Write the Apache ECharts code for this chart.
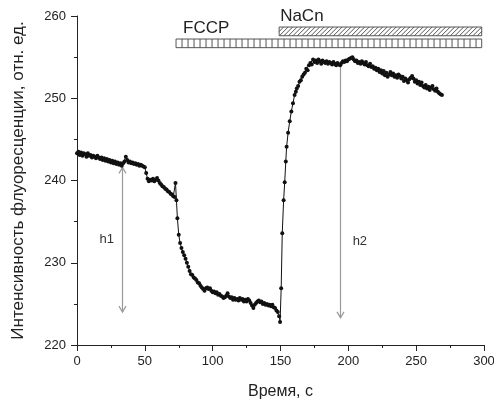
<!DOCTYPE html>
<html>
<head>
<meta charset="utf-8">
<script src="https://cdn.jsdelivr.net/npm/echarts@6/dist/echarts.min.js"></script>
<style>html,body{margin:0;padding:0;background:#fff}#c{width:494px;height:403px}</style>
</head>
<body>
<div id="c"></div>
<script>
// Fluorescence trace: [time s, intensity]
const trace = [
[0,243.3],[1,243.5],[2,243.1],[3,243.4],[4,243.0],[5,243.3],[6,243.2],[7,242.9],[8,243.3],[9,243.0],
[10,243.1],[11,242.8],[12,243.0],[13,242.9],[14,242.7],[15,243.0],[16,242.8],[17,242.6],[18,242.8],[19,242.5],
[20,242.7],[21,242.4],[22,242.6],[23,242.3],[24,242.5],[25,242.2],[26,242.4],[27,242.1],[28,242.3],[29,242.0],
[30,242.2],[31,241.9],[32,242.1],[33,241.8],[34,242.1],[35,242.3],[36,242.9],[37,242.5],[38,242.2],[39,242.3],
[40,242.1],[41,242.2],[42,242.0],[43,242.1],[44,241.9],[45,242.0],[46,241.8],[47,241.9],[48,241.8],[49,241.7],
[50,241.6],[51,240.9],[52,240.2],[53,239.9],[54,240.1],[55,240.0],[56,240.2],[57,239.9],[58,240.1],[59,240.3],
[60,240.0],[61,239.7],[62,239.5],[63,239.3],[64,239.2],[65,239.0],[66,238.9],[67,238.7],[68,238.6],[69,238.4],
[70,238.3],[71,238.1],[72,238.0],[72.6,239.7],[73.3,237.6],[74,235.4],[75,233.4],[76,232.4],[77,231.8],[78,231.3],
[79,230.9],[80,230.5],[81,230.0],[82,229.5],[83,229.0],[84,228.6],[85,228.5],[86,228.2],[87,228.1],[88,227.9],
[89,227.6],[90,227.5],[91,227.2],[92,227.0],[93,226.8],[94,226.6],[95,226.9],[96,227.0],[97,226.8],[98,226.9],
[99,226.6],[100,226.4],[101,226.5],[102,226.3],[103,226.4],[104,226.1],[105,226.2],[106,226.0],[107,225.9],[108,225.7],
[109,225.8],[110,226.0],[111,226.3],[112,225.9],[113,225.7],[114,225.8],[115,225.5],[116,225.7],[117,225.5],[118,225.6],
[119,225.4],[120,225.7],[121,225.5],[122,225.6],[123,225.3],[124,225.5],[125,225.3],[126,225.6],[127,225.4],[128,225.1],
[129,224.8],[130,224.5],[131,224.9],[132,225.1],[133,225.3],[134,225.4],[135,225.2],[136,225.3],[137,225.0],[138,225.1],
[139,224.9],[140,225.0],[141,224.8],[142,224.9],[143,224.7],[144,224.9],[145,224.6],[146,224.5],[147,224.2],[148,224.0],
[149,223.5],[149.7,222.8],[150.5,226.9],[151.3,233.6],[152.3,237.6],[153.1,239.8],[153.9,242.3],[154.5,244.1],[155.6,245.8],[156.8,247.2],
[158,248.4],[159.2,249.4],[160.4,250.4],[161.3,250.8],[162,251.2],[163,251.5],[164,252.0],[165,252.2],[166,252.6],[167,252.9],
[168,253.1],[169,253.6],[170,253.4],[171,254.0],[172,254.3],[173,254.1],[174,254.7],[175,254.4],[176,254.6],[177,254.3],
[178,254.7],[179,254.5],[180,254.2],[181,254.6],[182,254.4],[183,254.3],[184,254.5],[185,254.2],[186,254.4],[187,254.3],
[188,254.1],[189,254.4],[190,254.2],[191,254.0],[192,254.3],[193,254.1],[194,254.0],[195,254.3],[196,254.5],[197,254.4],
[198,254.6],[199,254.5],[200,254.7],[201,254.8],[202,254.9],[203,255.0],[204,254.7],[205,254.5],[206,254.6],[207,254.3],
[208,254.4],[209,254.2],[210,254.5],[211,254.3],[212,254.1],[213,254.4],[214,254.0],[215,253.9],[216,254.2],[217,253.8],
[218,253.9],[219,253.6],[220,253.7],[221,253.4],[222,253.6],[223,253.2],[224,253.4],[225,253.0],[226,253.3],[227,252.8],
[228,253.1],[229,252.6],[230,252.9],[231,253.2],[232,252.8],[233,253.0],[234,252.6],[235,252.8],[236,252.5],[237,252.9],
[238,252.7],[239,252.4],[240,252.6],[241,252.1],[242,252.4],[243,252.2],[244,251.9],[245,252.3],[246,252.5],[247,252.7],
[248,252.4],[249,252.0],[250,252.2],[251,251.8],[252,252.0],[253,251.6],[254,251.9],[255,251.5],[256,251.3],[257,251.6],
[258,251.2],[259,251.4],[260,251.0],[261,251.3],[262,251.5],[263,251.1],[264,250.9],[265,251.2],[266,250.8],[267,250.6],
[268,250.5],[269,250.4]
];
const xTicks = [0, 50, 100, 150, 200, 250, 300];
const yTicks = [220, 230, 240, 250, 260];
// Treatment bars: [label, startTime, endTime, yLow, yHigh]
const treatments = [
  ['FCCP', 73, 298.3, 256.15, 257.2],
  ['NaCn', 149, 298.3, 257.6, 258.66]
];
// Arrows: [label, time, yTop, yBottom, doubleHeaded, labelTime, labelY]
const arrows = [
  ['h1', 33, 241.6, 224.0, 1, 22, 232.8],
  ['h2', 194, 254.1, 223.3, 0, 208.5, 232.6]
];

const FONT = 'Liberation Sans, Arial, sans-serif';
const chart = echarts.init(document.getElementById('c'), null, {renderer: 'canvas'});

function renderBar(params, api) {
  const idx = params.dataIndex;
  const p0 = api.coord([api.value(1), api.value(4)]);
  const p1 = api.coord([api.value(2), api.value(3)]);
  const x0 = p0[0], y0 = p0[1], x1 = p1[0], y1 = p1[1];
  const w = x1 - x0, h = y1 - y0;
  const children = [];
  const stroke = '#555';
  if (idx === 0) {
    const step = 6;
    for (let x = x0 + step; x < x1 - 1; x += step) {
      children.push({type: 'line', shape: {x1: x, y1: y0, x2: x, y2: y1}, style: {stroke: stroke, lineWidth: 1}});
    }
  } else {
    const step = 4.5;
    for (let s = x0 - h; s < x1; s += step) {
      let ax = s, ay = y1, bx = s + h, by = y0;
      if (ax < x0) { ay = y1 - (x0 - ax); ax = x0; }
      if (bx > x1) { by = y0 + (bx - x1); bx = x1; }
      if (bx <= ax) continue;
      children.push({type: 'line', shape: {x1: ax, y1: ay, x2: bx, y2: by}, style: {stroke: stroke, lineWidth: 1}});
    }
  }
  children.push({type: 'rect', shape: {x: x0, y: y0, width: w, height: h}, style: {fill: 'none', stroke: stroke, lineWidth: 1}});
  children.push({type: 'text', style: {text: api.value(0), x: idx === 0 ? x0 + 7 : x0 + 1, y: y0 - 2, textVerticalAlign: 'bottom', fill: '#222', font: '17px ' + FONT}});
  return {type: 'group', children: children};
}

function renderArrow(params, api) {
  const top = api.coord([api.value(1), api.value(2)]);
  const bot = api.coord([api.value(1), api.value(3)]);
  const lab = api.coord([api.value(5), api.value(6)]);
  const x = Math.round(top[0]) + 0.5;
  const col = '#999';
  const hw = 3.5, hh = 6;
  const children = [
    {type: 'line', shape: {x1: x, y1: top[1], x2: x, y2: bot[1]}, style: {stroke: col, lineWidth: 1.2}},
    {type: 'polyline', shape: {points: [[x - hw, bot[1] - hh], [x, bot[1]], [x + hw, bot[1] - hh]]}, style: {stroke: col, lineWidth: 1.2, fill: 'none'}}
  ];
  if (api.value(4) === 1) {
    children.push({type: 'polyline', shape: {points: [[x - hw, top[1] + hh], [x, top[1]], [x + hw, top[1] + hh]]}, style: {stroke: col, lineWidth: 1.2, fill: 'none'}});
  }
  children.push({type: 'text', style: {text: api.value(0), x: lab[0], y: lab[1], textAlign: 'center', textVerticalAlign: 'middle', fill: '#333', font: '13px ' + FONT}});
  return {type: 'group', children: children};
}

const axisCommon = {
  axisLine: {show: true, lineStyle: {color: '#222', width: 1}},
  axisTick: {show: true, inside: false, length: 6, lineStyle: {color: '#222'}},
  minorTick: {show: true, splitNumber: 2, length: 3, lineStyle: {color: '#222'}},
  splitLine: {show: false},
  axisLabel: {color: '#222', fontSize: 13, fontFamily: FONT},
  nameTextStyle: {color: '#222', fontSize: 16, fontFamily: FONT},
  nameLocation: 'middle'
};

chart.setOption({
  animation: false,
  backgroundColor: '#fff',
  grid: {left: 77, right: 10, top: 16, bottom: 58, containLabel: false, outerBoundsMode: 'none'},
  xAxis: Object.assign({}, axisCommon, {
    type: 'value', min: xTicks[0], max: xTicks[xTicks.length - 1], interval: xTicks[1] - xTicks[0],
    name: 'Время, с', nameGap: 39,
    axisLabel: Object.assign({}, axisCommon.axisLabel, {margin: 10})
  }),
  yAxis: Object.assign({}, axisCommon, {
    type: 'value', min: yTicks[0], max: yTicks[yTicks.length - 1], interval: yTicks[1] - yTicks[0],
    name: 'Интенсивность флуоресценции, отн. ед.', nameGap: 50,
    nameTextStyle: Object.assign({}, axisCommon.nameTextStyle, {fontSize: 17}),
    axisLabel: Object.assign({}, axisCommon.axisLabel, {margin: 11})
  }),
  series: [
    {
      type: 'line', data: trace, symbol: 'circle', symbolSize: 4, showSymbol: true,
      lineStyle: {color: '#111', width: 1}, itemStyle: {color: '#111'}, z: 3, clip: false
    },
    {type: 'custom', renderItem: renderBar, data: treatments, z: 2, clip: false,
     encode: {x: [1, 2], y: [3, 4]}},
    {type: 'custom', renderItem: renderArrow, data: arrows, z: 1, clip: false,
     encode: {x: [1, 5], y: [2, 3]}}
  ]
});
</script>
</body>
</html>
